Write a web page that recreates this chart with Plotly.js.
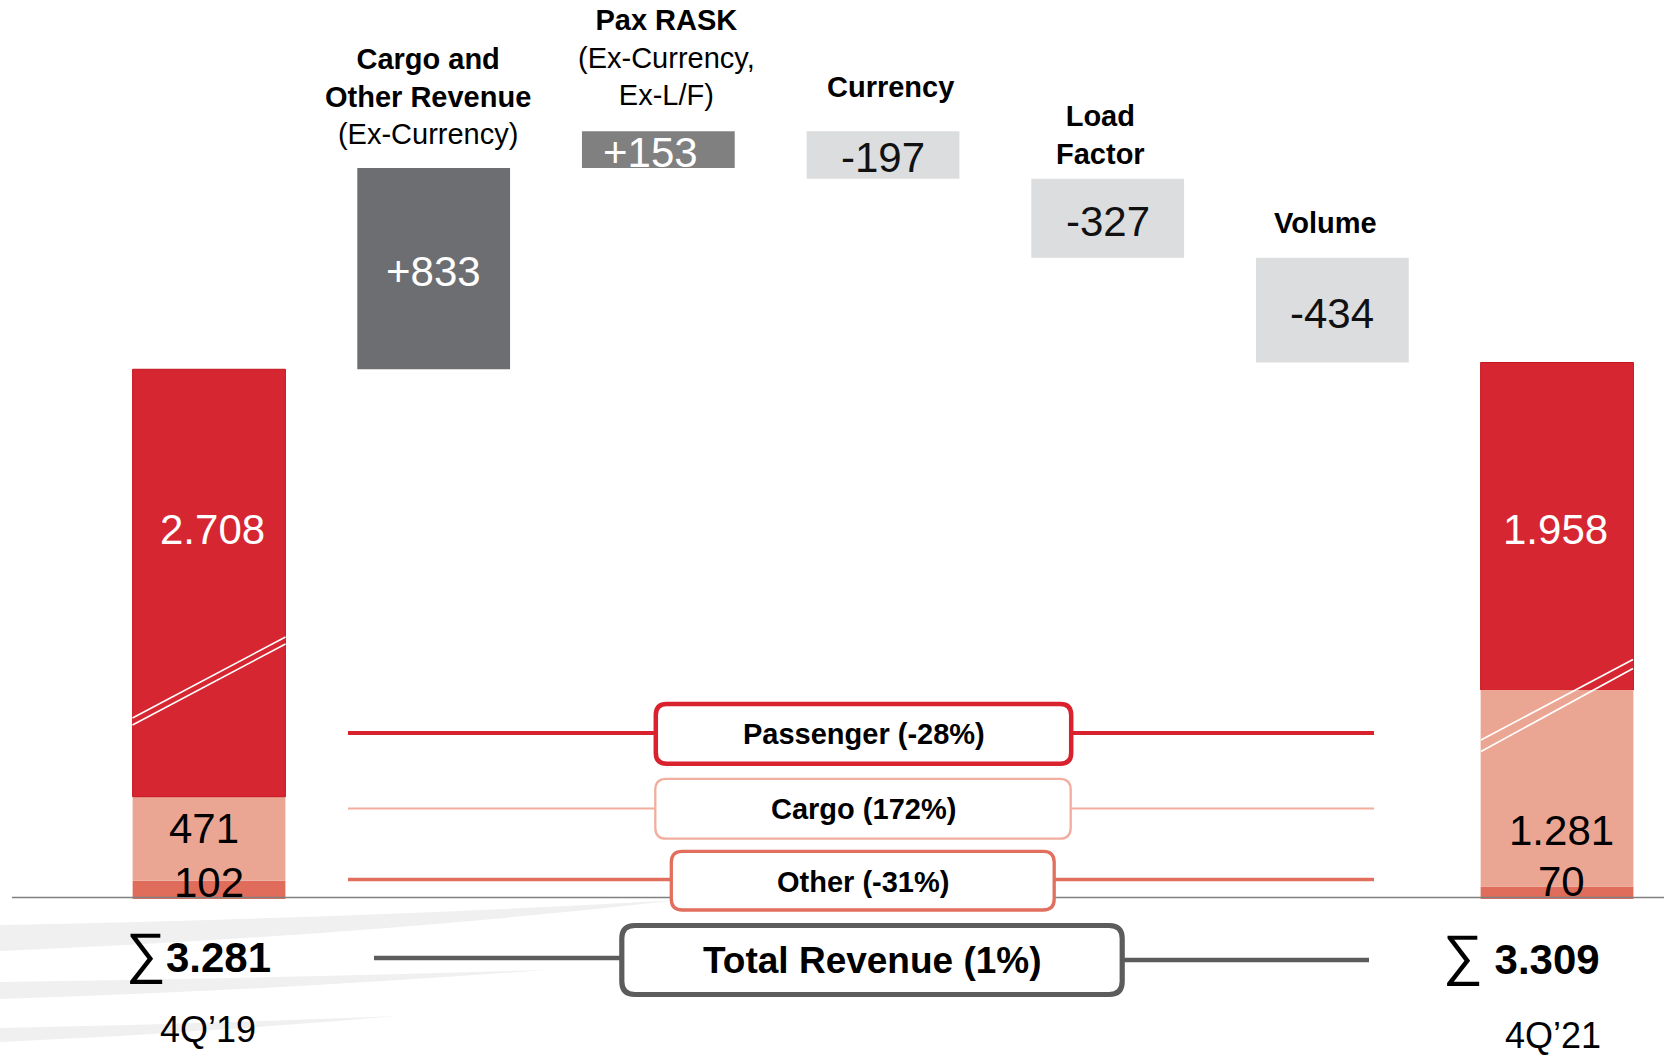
<!DOCTYPE html>
<html>
<head>
<meta charset="utf-8">
<script src="https://cdn.plot.ly/plotly-3.0.1.min.js"></script>
<style>
html, body { margin: 0; padding: 0; background: #ffffff; }
#chart { width: 1664px; height: 1055px; }
</style>
</head>
<body>
<div id="chart"></div>
<script>
// ---------------- DATA ----------------
const categories = ["4Q'19", "Cargo and Other Revenue (Ex-Currency)", "Pax RASK (Ex-Currency, Ex-L/F)", "Currency", "Load Factor", "Volume", "4Q'21"];
const periodLabels = ["4Q’19", "4Q’21"];
const passenger = [2708, 1958];
const cargo = [471, 1281];
const other = [102, 70];
const totals = [3281, 3309];
const bridgeDeltas = [833, 153, -197, -327, -434];
const changeLabels = ["Passenger (-28%)", "Cargo (172%)", "Other (-31%)", "Total Revenue (1%)"];
const headerBold = [["Cargo and", "Other Revenue"], ["Pax RASK"], ["Currency"], ["Load", "Factor"], ["Volume"]];
const headerPlain = [["(Ex-Currency)"], ["(Ex-Currency,", "Ex-L/F)"], [], [], []];

// ---------------- HELPERS ----------------
const W = 1664, H = 1055;
const FONT = "Liberation Sans, Arial, Helvetica, sans-serif";
const PX = p => p / W;
const PY = p => 1 - p / H;
const fmt = n => (n < 0 ? "-" : "") + String(Math.abs(n)).replace(/\B(?=(\d{3})+(?!\d))/g, ".");
const fmtSigned = n => (n > 0 ? "+" : "") + fmt(n);

const C_PASS = "#d62631", C_CARGO = "#eba693", C_OTHER = "#e06c5b";
const C_BOX_PASS = "#d8232e", C_BOX_CARGO = "#f1ae9e", C_BOX_OTHER = "#e26e5e", C_BOX_TOT = "#5c5c5c";

const endX = [0, categories.length - 1];
const cargoBase = other.slice();
const passBase = other.map((v, i) => v + cargo[i]);

let running = totals[0];
const bridgeX = [], bridgeBase = [], bridgeMid = [];
bridgeDeltas.forEach((d, i) => {
  bridgeX.push(i + 1);
  bridgeBase.push(running);
  bridgeMid.push(running + d / 2);
  running += d;
});
const bridgeColors = ["#6d6e71", "#808080", "#dcdddf", "#dcdddf", "#dcdddf"];
const bridgeTextColors = ["#ffffff", "#ffffff", "#111111", "#111111", "#111111"];
const bridgeTextShift = [0, -8, 0, 0, 0];

// ---------------- TRACES ----------------
const barCommon = { type: "bar", width: 0.68, hoverinfo: "skip", showlegend: false, xaxis: "x" };
const passMarker = { color: C_PASS, line: { color: "#c6141d", width: 1 } };
const data = [
  Object.assign({}, barCommon, { x: endX, y: other, yaxis: "y", marker: { color: C_OTHER } }),
  Object.assign({}, barCommon, { x: endX, y: cargo, base: cargoBase, yaxis: "y", marker: { color: C_CARGO } }),
  Object.assign({}, barCommon, { x: endX, y: passenger, base: passBase, yaxis: "y", marker: passMarker }),
  Object.assign({}, barCommon, { x: endX, y: passenger, base: passBase, yaxis: "y2", marker: passMarker }),
  Object.assign({}, barCommon, { x: bridgeX, y: bridgeDeltas, base: bridgeBase, yaxis: "y2", marker: { color: bridgeColors } })
];

// ---------------- ANNOTATIONS ----------------
const ann = [];
function txt(text, x, y, size, color, opts) {
  ann.push(Object.assign({
    text: text, x: x, y: y, xref: "paper", yref: "paper",
    xanchor: "center", yanchor: "middle", showarrow: false,
    font: { family: FONT, size: size, color: color || "#000000" }
  }, opts || {}));
}

// bridge values (placed at the middle of each step, on the upper axis)
bridgeDeltas.forEach((d, i) => {
  ann.push({
    text: fmtSigned(d), x: bridgeX[i], y: bridgeMid[i], xref: "x", yref: "y2",
    xanchor: "center", yanchor: "middle", yshift: -3, xshift: bridgeTextShift[i], showarrow: false,
    font: { family: FONT, size: 42, color: bridgeTextColors[i] }
  });
});

// headers above bridge steps
const headerPos = [[428, 96], [666, 57], [891, 87], [1100, 134.5], [1325, 223]];
headerBold.forEach((lines, i) => {
  const parts = lines.map(l => "<b>" + l + "</b>").concat(headerPlain[i]);
  txt(parts.join("<br>"), PX(headerPos[i][0]), PY(headerPos[i][1]), 29, "#000000");
});

// segment values inside end bars
txt(fmt(passenger[0]), PX(212), PY(529), 42, "#ffffff");
txt(fmt(passenger[1]), PX(1555), PY(529), 42, "#ffffff");
txt(fmt(cargo[0]), PX(204), PY(828), 42, "#000000");
txt(fmt(other[0]), PX(209), PY(882), 42, "#000000");
txt(fmt(cargo[1]), PX(1561), PY(830), 42, "#000000");
txt(fmt(other[1]), PX(1561), PY(881), 42, "#000000");

// totals + periods
const SIGMA = "<span style=\"font-size:56px\">∑</span>";
txt(SIGMA + "<b>" + fmt(totals[0]) + "</b>", PX(198), PY(957), 42, "#000000", { yshift: 5 });
txt(SIGMA + " <b>" + fmt(totals[1]) + "</b>", PX(1521), PY(959), 42, "#000000", { yshift: 5 });
txt(periodLabels[0], PX(208), PY(1029), 36, "#000000");
txt(periodLabels[1], PX(1553), PY(1035), 36, "#000000");

// change boxes text
txt("<b>" + changeLabels[0] + "</b>", PX(864), PY(734), 29, "#000000");
txt("<b>" + changeLabels[1] + "</b>", PX(863), PY(809), 29, "#000000");
txt("<b>" + changeLabels[2] + "</b>", PX(863), PY(882), 29, "#000000");
txt("<b>" + changeLabels[3] + "</b>", PX(872), PY(960), 37, "#000000");

// ---------------- SHAPES (decoration) ----------------
const shapes = [];
const pt = (x, y) => PX(x).toFixed(5) + "," + PY(y).toFixed(5);
function pathShape(d, fill, lineColor, lineWidth, layer) {
  shapes.push({ type: "path", xref: "paper", yref: "paper", path: d, fillcolor: fill,
    line: { color: lineColor || "rgba(0,0,0,0)", width: lineWidth || 0 }, layer: layer || "above" });
}
function lineShape(x0, y0, x1, y1, color, width) {
  shapes.push({ type: "line", xref: "paper", yref: "paper", x0: PX(x0), y0: PY(y0), x1: PX(x1), y1: PY(y1),
    line: { color: color, width: width }, layer: "above" });
}
function roundRect(x0, y0, x1, y1, r, color, width) {
  const d = "M" + pt(x0 + r, y0) + " L" + pt(x1 - r, y0) + " Q" + pt(x1, y0) + " " + pt(x1, y0 + r) +
    " L" + pt(x1, y1 - r) + " Q" + pt(x1, y1) + " " + pt(x1 - r, y1) +
    " L" + pt(x0 + r, y1) + " Q" + pt(x0, y1) + " " + pt(x0, y1 - r) +
    " L" + pt(x0, y0 + r) + " Q" + pt(x0, y0) + " " + pt(x0 + r, y0) + " Z";
  pathShape(d, "#ffffff", color, width, "above");
}

// background swooshes
pathShape("M" + pt(0, 925) + " Q" + pt(360, 918) + " " + pt(680, 900) + " Q" + pt(360, 936) + " " + pt(0, 951) + " Z", "#f0f0f0", null, 0, "below");
pathShape("M" + pt(0, 982) + " Q" + pt(280, 978) + " " + pt(545, 970) + " Q" + pt(280, 990) + " " + pt(0, 999) + " Z", "#f0f0f0", null, 0, "below");
pathShape("M" + pt(0, 1028) + " Q" + pt(200, 1024) + " " + pt(398, 1016) + " Q" + pt(200, 1033) + " " + pt(0, 1042) + " Z", "#f0f0f0", null, 0, "below");

// baseline
lineShape(12, 897.5, 1664, 897.5, "#808080", 1.5);

// axis break marks
lineShape(132.5, 718, 285.5, 637, "#ffffff", 1.6);
lineShape(132.5, 725, 285.5, 644, "#ffffff", 1.6);
lineShape(1481, 740, 1633, 659.5, "#ffffff", 1.6);
lineShape(1481, 751.5, 1633, 668.5, "#ffffff", 1.6);

// connectors
lineShape(348, 733, 656, 733, C_BOX_PASS, 4);
lineShape(1071, 733, 1374, 733, C_BOX_PASS, 4);
lineShape(348, 808.5, 656, 808.5, C_BOX_CARGO, 2.2);
lineShape(1070, 808.5, 1374, 808.5, C_BOX_CARGO, 2.2);
lineShape(348, 879.5, 671, 879.5, C_BOX_OTHER, 3.3);
lineShape(1054, 879.5, 1374, 879.5, C_BOX_OTHER, 3.3);
lineShape(374, 958, 622, 958, C_BOX_TOT, 4.3);
lineShape(1122, 960, 1369, 960, C_BOX_TOT, 4.3);

// callout boxes
roundRect(655.8, 704, 1071.2, 763.7, 11, C_BOX_PASS, 4.5);
roundRect(655.3, 778.8, 1070.7, 838.7, 11, C_BOX_CARGO, 2.3);
roundRect(671.3, 851.3, 1054.2, 910, 11, C_BOX_OTHER, 3.3);
roundRect(621.8, 925.5, 1122.2, 994.5, 13, C_BOX_TOT, 5.2);

// ---------------- LAYOUT ----------------
const layout = {
  width: W, height: H,
  margin: { l: 0, r: 0, t: 0, b: 0, pad: 0 },
  paper_bgcolor: "#ffffff", plot_bgcolor: "rgba(0,0,0,0)",
  barmode: "overlay",
  showlegend: false,
  hovermode: false,
  xaxis: { range: [-0.9303, 6.4762], visible: false, fixedrange: true },
  // lower part of the broken axis (0 .. break)
  yaxis: { domain: [PY(899), PY(690)], range: [0, 1170.4], visible: false, fixedrange: true },
  // upper part of the broken axis (break .. top), where the bridge steps live
  yaxis2: { domain: [PY(690), 1], range: [1953, 4810], visible: false, fixedrange: true, anchor: "x" },
  annotations: ann,
  shapes: shapes,
  font: { family: FONT }
};

Plotly.newPlot("chart", data, layout, { staticPlot: true, displayModeBar: false, responsive: false });
</script>
</body>
</html>
